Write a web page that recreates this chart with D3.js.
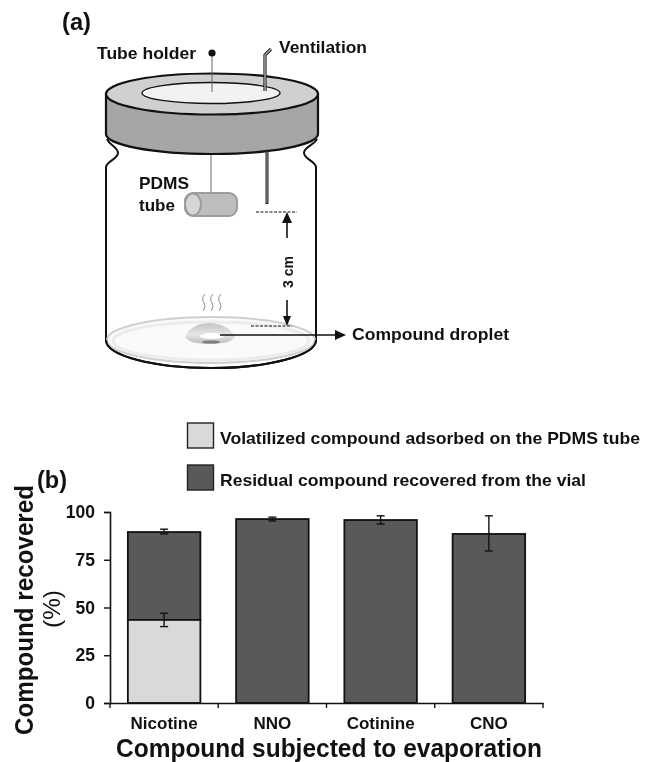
<!DOCTYPE html>
<html lang="en">
<head>
<meta charset="UTF-8">
<title>Compound recovered</title>
<style>
  html, body { margin: 0; padding: 0; background: #fff; }
  svg { display: block; filter: blur(0.4px); }
  text { font-family: "Liberation Sans", Arial, sans-serif; font-weight: bold; fill: #111; }
</style>
</head>
<body>
<div id="my_dataviz"></div>
<script src="https://d3js.org/d3.v7.min.js"></script>
<script>
// chart values
var categories = ["Nicotine", "NNO", "Cotinine", "CNO"];
var volatilized = [43.5, 0, 0, 0];
var residual = [46, 96.3, 95.8, 88.5];
var volatilizedLow = [40, null, null, null];
var volatilizedHigh = [47, null, null, null];
var totalLow = [88.5, 95.3, 93.7, 79.6];
var totalHigh = [91, 97.3, 98, 98];
var yTicks = [0, 25, 50, 75, 100];
var legendLabels = ["Volatilized compound adsorbed on the PDMS tube", "Residual compound recovered from the vial"];

var svg = d3.select("#my_dataviz").append("svg")
    .attr("width", 649)
    .attr("height", 762);

var light = "#d9d9d9", dark = "#595959";

function label(txt, x, y, size, len) {
    var t = svg.append("text").attr("x", x).attr("y", y).attr("font-size", size).text(txt);
    if (len) t.attr("textLength", len).attr("lengthAdjust", "spacingAndGlyphs");
    return t;
}

// ---------- (a) the vial drawing ----------
label("(a)", 62, 30, 24, 29);

var vial = svg.append("g");

// glass body with the neck notches
vial.append("path")
    .attr("d", "M107,139 C110,146 118,147 118,153 C118,159 107,161 106,167 L106,340 A105,28 0 0 0 316,340 L316,167 C315,161 304,159 304,153 C304,147 313,146 317,139")
    .attr("fill", "#fff").attr("stroke", "#111").attr("stroke-width", 2);

// dish at the bottom
vial.append("ellipse").attr("cx", 211).attr("cy", 340).attr("rx", 104).attr("ry", 23)
    .attr("fill", "#fafafa").attr("stroke", "#cfcfcf").attr("stroke-width", 2);
vial.append("ellipse").attr("cx", 211).attr("cy", 341).attr("rx", 98).attr("ry", 19)
    .attr("fill", "none").attr("stroke", "#ececec").attr("stroke-width", 3);
vial.append("path").attr("d", "M106,340 A105,28 0 0 0 316,340")
    .attr("fill", "none").attr("stroke", "#111").attr("stroke-width", 2);

// droplet
var grad = svg.append("defs").append("linearGradient").attr("id", "drop")
    .attr("x1", 0).attr("y1", 0).attr("x2", 0).attr("y2", 1);
grad.append("stop").attr("offset", "0").attr("stop-color", "#c4c4c4");
grad.append("stop").attr("offset", "0.55").attr("stop-color", "#e6e6e6");
grad.append("stop").attr("offset", "1").attr("stop-color", "#bcbcbc");
vial.append("path").attr("d", "M185,337 C190,326 200,323 209,323 C220,323 231,328 235,337 C232,342 222,344 209,344 C197,344 188,342 185,337 Z")
    .attr("fill", "url(#drop)");
vial.append("ellipse").attr("cx", 212).attr("cy", 336).attr("rx", 12).attr("ry", 3).attr("fill", "#fff");
vial.append("ellipse").attr("cx", 211).attr("cy", 342).attr("rx", 9).attr("ry", 1.6).attr("fill", "#7d7d7d");

// vapour squiggles
[203, 211, 219].forEach(function (x) {
    vial.append("path")
        .attr("d", "M" + (x + 2) + ",294 C" + (x - 5) + ",302 " + (x + 6) + ",302 " + x + ",311")
        .attr("fill", "none").attr("stroke", "#8c8c8c").attr("stroke-width", 1);
});

// cap
vial.append("path").attr("d", "M106,94 L106,134 A106,20 0 0 0 318,134 L318,94 Z")
    .attr("fill", "#a6a6a6").attr("stroke", "#111").attr("stroke-width", 2.2);
vial.append("ellipse").attr("cx", 212).attr("cy", 94).attr("rx", 106).attr("ry", 20.5)
    .attr("fill", "#d0d0d0").attr("stroke", "#111").attr("stroke-width", 2.2);
vial.append("ellipse").attr("cx", 211).attr("cy", 93).attr("rx", 69).attr("ry", 10.5)
    .attr("fill", "#f2f2f2").attr("stroke", "#111").attr("stroke-width", 1.4);

// tube holder
vial.append("line").attr("x1", 212).attr("y1", 53).attr("x2", 212).attr("y2", 92)
    .attr("stroke", "#666").attr("stroke-width", 1);
vial.append("circle").attr("cx", 212).attr("cy", 53).attr("r", 3.6).attr("fill", "#111");
vial.append("line").attr("x1", 211).attr("y1", 155).attr("x2", 211).attr("y2", 197)
    .attr("stroke", "#666").attr("stroke-width", 1);

// PDMS tube
vial.append("rect").attr("x", 185).attr("y", 193).attr("width", 52).attr("height", 23).attr("rx", 8)
    .attr("fill", "#bdbdbd").attr("stroke", "#9c9c9c").attr("stroke-width", 2);
vial.append("ellipse").attr("cx", 193).attr("cy", 204.5).attr("rx", 8).attr("ry", 11)
    .attr("fill", "#d6d6d6").attr("stroke", "#9c9c9c").attr("stroke-width", 2);

// ventilation needle
vial.append("path").attr("d", "M265,91 L265,55 L271,49")
    .attr("fill", "none").attr("stroke", "#222").attr("stroke-width", 3.2);
vial.append("path").attr("d", "M265,91 L265,55 L271,49")
    .attr("fill", "none").attr("stroke", "#aaa").attr("stroke-width", 1.4);
vial.append("line").attr("x1", 267).attr("y1", 151).attr("x2", 267).attr("y2", 204)
    .attr("stroke", "#222").attr("stroke-width", 3);
vial.append("line").attr("x1", 267).attr("y1", 152).attr("x2", 267).attr("y2", 203)
    .attr("stroke", "#999").attr("stroke-width", 1);

// 3 cm dimension
vial.append("line").attr("x1", 256).attr("y1", 212).attr("x2", 297).attr("y2", 212)
    .attr("stroke", "#111").attr("stroke-width", 1.2).attr("stroke-dasharray", "3,1.5");
vial.append("line").attr("x1", 251).attr("y1", 326).attr("x2", 292).attr("y2", 326)
    .attr("stroke", "#111").attr("stroke-width", 1.2).attr("stroke-dasharray", "3,1.5");
vial.append("line").attr("x1", 287).attr("y1", 222).attr("x2", 287).attr("y2", 238)
    .attr("stroke", "#111").attr("stroke-width", 1.6);
vial.append("path").attr("d", "M287,212 L282,223 L292,223 Z").attr("fill", "#111");
vial.append("line").attr("x1", 287).attr("y1", 300).attr("x2", 287).attr("y2", 318)
    .attr("stroke", "#111").attr("stroke-width", 1.6);
vial.append("path").attr("d", "M287,326 L283,316 L291,316 Z").attr("fill", "#111");

// droplet arrow
vial.append("line").attr("x1", 220).attr("y1", 335).attr("x2", 337).attr("y2", 335)
    .attr("stroke", "#111").attr("stroke-width", 1.6);
vial.append("path").attr("d", "M346,335 L335,330 L335,340 Z").attr("fill", "#111");

label("Tube holder", 97, 59, 17, 99);
label("Ventilation", 279, 53, 17, 88);
label("PDMS", 139, 189, 17, 50);
label("tube", 139, 211, 17, 36);
label("Compound droplet", 352, 340, 17, 157);
label("3 cm", 0, 0, 15, 32).attr("text-anchor", "middle")
    .attr("transform", "translate(293,272) rotate(-90)");

// ---------- (b) the bar chart ----------
label("(b)", 37, 488, 24, 30);

var x = d3.scaleBand().domain(categories).range([110, 543]).paddingInner(0).paddingOuter(0);
var y = d3.scaleLinear().domain([0, 100]).range([703, 512]);
var barWidth = x.bandwidth() * 0.67;
var barLeft = function (c) { return x(c) + (x.bandwidth() - barWidth) / 2; };

// stacked bars
var rows = categories.map(function (c, i) {
    return { cat: c, low: volatilized[i], top: volatilized[i] + residual[i] };
});

svg.append("g").selectAll("rect").data(rows).enter().append("rect")
    .attr("x", function (d) { return barLeft(d.cat); })
    .attr("width", barWidth)
    .attr("y", function (d) { return y(d.top); })
    .attr("height", function (d) { return y(d.low) - y(d.top); })
    .attr("fill", dark).attr("stroke", "#111").attr("stroke-width", 1.8);

svg.append("g").selectAll("rect").data(rows.filter(function (d) { return d.low > 0; })).enter().append("rect")
    .attr("x", function (d) { return barLeft(d.cat); })
    .attr("width", barWidth)
    .attr("y", function (d) { return y(d.low); })
    .attr("height", function (d) { return y(0) - y(d.low); })
    .attr("fill", light).attr("stroke", "#111").attr("stroke-width", 1.8);

// error bars
function errorBar(c, lo, hi) {
    var cx = x(c) + x.bandwidth() / 2;
    var g = svg.append("g").attr("stroke", "#111").attr("stroke-width", 1.4);
    g.append("line").attr("x1", cx).attr("x2", cx).attr("y1", y(lo)).attr("y2", y(hi));
    g.append("line").attr("x1", cx - 4).attr("x2", cx + 4).attr("y1", y(lo)).attr("y2", y(lo));
    g.append("line").attr("x1", cx - 4).attr("x2", cx + 4).attr("y1", y(hi)).attr("y2", y(hi));
}
categories.forEach(function (c, i) {
    errorBar(c, totalLow[i], totalHigh[i]);
    if (volatilizedLow[i] !== null) errorBar(c, volatilizedLow[i], volatilizedHigh[i]);
});

// X axis
var xAxis = svg.append("g")
    .attr("transform", "translate(0,703)")
    .call(d3.axisBottom(x).tickSize(0).tickPadding(14));
xAxis.select(".domain").attr("stroke", "#111").attr("stroke-width", 1.6);
xAxis.selectAll("text").attr("font-size", 17).attr("font-family", "Liberation Sans").attr("fill", "#111");
d3.range(categories.length + 1).forEach(function (i) {
    var tx = 110 + i * x.bandwidth();
    xAxis.append("line").attr("x1", tx).attr("x2", tx).attr("y1", 0).attr("y2", 5)
        .attr("stroke", "#111").attr("stroke-width", 1.4);
});

// Y axis
var yAxis = svg.append("g")
    .attr("transform", "translate(110,0)")
    .call(d3.axisLeft(y).tickValues(yTicks).tickSize(6).tickPadding(9));
yAxis.select(".domain").attr("stroke", "#111").attr("stroke-width", 1.6);
yAxis.selectAll(".tick line").attr("stroke", "#111").attr("stroke-width", 1.4);
yAxis.selectAll("text").attr("font-size", 17.5).attr("font-family", "Liberation Sans").attr("fill", "#111");

// axis titles
label("Compound recovered", 0, 0, 25, 250).attr("text-anchor", "middle")
    .attr("transform", "translate(33,610) rotate(-90)");
label("(%)", 0, 0, 24, 38).attr("text-anchor", "middle").attr("font-weight", "normal").style("font-weight", "normal")
    .attr("transform", "translate(60,609) rotate(-90)");
label("Compound subjected to evaporation", 116, 757, 25, 426);

// legend
var legendY = [423, 465];
var legendColors = [light, dark];
legendLabels.forEach(function (txt, i) {
    svg.append("rect").attr("x", 187.5).attr("y", legendY[i]).attr("width", 26).attr("height", 25)
        .attr("fill", legendColors[i]).attr("stroke", "#222").attr("stroke-width", 1.4);
    label(txt, 220, legendY[i] + 21, 16.5, i === 0 ? 420 : 366);
});
</script>
</body>
</html>
